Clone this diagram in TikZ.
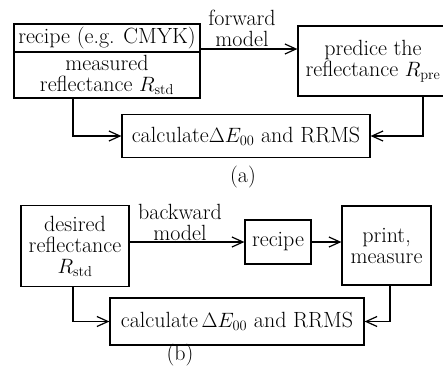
\documentclass[tikz,border=0pt]{standalone}
\usetikzlibrary{arrows.meta}
\begin{document}
\begin{tikzpicture}[x=1pt,y=-1pt,
    box/.style={draw=black,line width=1.2pt,inner sep=0pt,align=center},
    arr/.style={line width=1.2pt,-{Straight Barb[length=11pt,width=10pt,line width=1.2pt]}},
    font=\fontsize{22}{21}\selectfont]
    \useasboundingbox (0,0) rectangle (443,373);

    % (a) forward model
    \node (rec) at (107,38) [box,minimum width=186pt,minimum height=28pt] {recipe (e.g. CMYK)};
    \node (meas) at (107,75) [box,minimum width=186pt,minimum height=46pt] {measured\\reflectance $R_{\mathrm{std}}$};
    \node (pred) at (373,61) [box,minimum width=150pt,minimum height=70pt] {predice the\\reflectance $R_{\mathrm{pre}}$};
    \node (calca) at (246,136) [box,minimum width=248pt,minimum height=43pt] {calculate$\Delta E_{00}$ and RRMS};

    \node (fwd) at (242,28) [align=center] {forward\\model};
    \node (capa) at (243,177) {(a)};

    \coordinate (fa) at (200,49);
    \draw[arr] (fa) -- (fa -| pred.west);
    \draw[arr] (meas.south -| 73,0) |- (calca.west);
    \draw[arr] (pred.south -| 423,0) |- (calca.east);

    % (b) backward model
    \node (des) at (75,246) [box,minimum width=108pt,minimum height=81pt] {desired\\reflectance\\$R_{\mathrm{std}}$};
    \node (recb) at (278,242) [box,minimum width=66pt,minimum height=44pt] {recipe};
    \node (prt) at (386.5,245.5) [box,minimum width=89pt,minimum height=79pt] {print,\\measure};
    \node (calcb) at (237,321.5) [box,minimum width=254pt,minimum height=47pt] {calculate\,$\Delta E_{00}$ and RRMS};

    \node (bwd) at (180,222) [align=center] {backward\\model};
    \node (capb) at (180,355) {(b)};

    \draw[arr] (des.east |- recb) -- (recb.west);
    \draw[arr] (recb.east) -- (prt.west |- recb);
    \draw[arr] (des.south -| 73,0) |- (calcb.west);
    \draw[arr] (prt.south -| 390,0) |- (calcb.east);

\end{tikzpicture}
\end{document}
